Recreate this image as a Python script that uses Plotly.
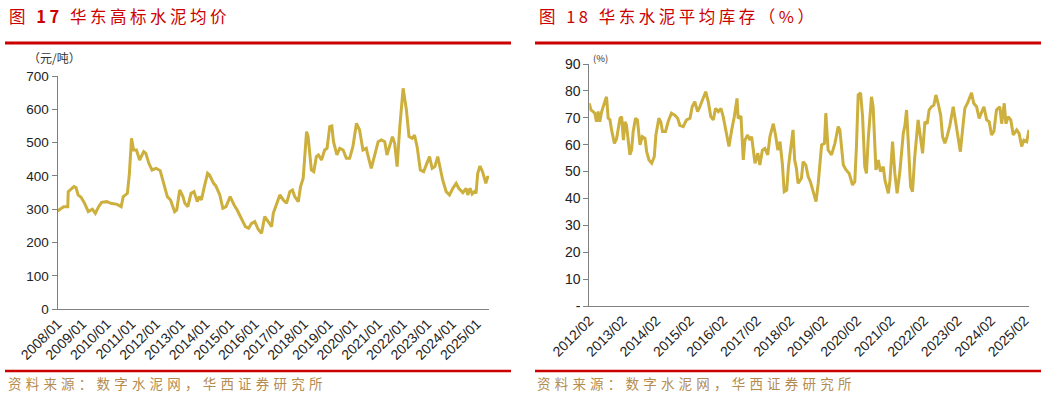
import plotly.graph_objects as go

# ---------------- Data ----------------
price_dates = [
    "2008-01-01", "2008-04-01", "2008-06-01", "2008-06-08", "2008-09-01", "2008-10-01", "2008-11-01",
    "2008-12-15", "2009-02-01", "2009-04-01", "2009-06-01", "2009-07-15", "2009-09-01", "2009-10-15",
    "2010-01-01", "2010-03-01", "2010-06-01", "2010-08-01", "2010-09-01", "2010-11-01", "2010-12-01",
    "2011-01-01", "2011-02-01", "2011-03-15", "2011-05-01", "2011-07-01", "2011-08-01", "2011-09-15",
    "2011-11-01", "2012-01-01", "2012-03-01", "2012-05-01", "2012-06-15", "2012-08-01", "2012-10-01",
    "2012-11-01", "2012-12-15", "2013-02-01", "2013-03-01", "2013-04-15", "2013-06-01", "2013-07-15",
    "2013-09-01", "2013-10-01", "2013-11-01", "2013-12-15", "2014-02-01", "2014-03-01", "2014-05-01",
    "2014-06-01", "2014-08-01", "2014-09-15", "2014-11-01", "2015-01-01", "2015-02-01", "2015-03-01",
    "2015-04-15", "2015-06-01", "2015-08-15", "2015-10-01", "2015-11-15", "2016-01-01", "2016-02-20",
    "2016-04-10", "2016-05-27", "2016-07-18", "2016-09-06", "2016-10-01", "2016-11-18", "2017-01-06",
    "2017-02-27", "2017-04-15", "2017-06-03", "2017-07-12", "2017-08-15", "2017-10-06", "2017-11-09",
    "2017-12-18", "2018-02-06", "2018-03-01", "2018-04-18", "2018-05-24", "2018-07-01", "2018-08-01",
    "2018-09-15", "2018-11-01", "2018-12-06", "2019-01-15", "2019-02-15", "2019-03-12", "2019-05-01",
    "2019-06-12", "2019-08-01", "2019-09-18", "2019-11-06", "2019-12-24", "2020-02-15", "2020-04-01",
    "2020-05-21", "2020-07-09", "2020-08-01", "2020-09-21", "2020-11-12", "2021-01-01", "2021-02-18",
    "2021-04-09", "2021-05-12", "2021-06-21", "2021-08-01", "2021-09-03", "2021-10-09", "2021-11-18",
    "2022-01-06", "2022-02-24", "2022-04-03", "2022-05-21", "2022-06-24", "2022-08-01", "2022-09-18",
    "2022-11-06", "2022-12-24", "2023-02-01", "2023-03-12", "2023-04-21", "2023-06-03", "2023-07-06",
    "2023-08-15", "2023-10-06", "2023-11-24", "2024-01-12", "2024-03-01", "2024-04-09", "2024-06-09",
    "2024-07-27", "2024-08-21", "2024-09-24", "2024-10-24", "2024-11-27", "2024-12-21", "2025-01-15",
    "2025-02-18", "2025-03-27", "2025-04-21", "2025-05-15", "2025-06-09", "2025-07-01",
]
price_values = [
    295, 308, 308, 353, 368, 365, 343,
    336, 320, 293, 300, 288, 308, 321,
    323, 318, 315, 308, 338, 348, 408,
    513, 478, 478, 448, 473, 468, 438,
    418, 423, 416, 368, 338, 328, 293,
    298, 358, 338, 318, 308, 348, 353,
    323, 338, 328, 368, 408, 403, 378,
    371, 343, 303, 308, 338, 323, 313,
    298, 278, 248, 243, 258, 263, 240,
    228, 278, 263, 248, 288, 313, 343,
    328, 318, 353, 358, 338, 323, 368,
    393, 533, 518, 418, 413, 458, 463,
    448, 478, 483, 548, 550, 503, 463,
    483, 478, 453, 453, 488, 558, 538,
    478, 483, 463, 423, 463, 503, 508,
    503, 463, 488, 518, 498, 428, 548,
    663, 598, 518, 513, 523, 488, 418,
    413, 438, 458, 423, 428, 458, 428,
    388, 353, 343, 363, 378, 363, 350,
    363, 343, 363, 346, 353, 348, 408,
    430, 413, 398, 378, 396, 396,
]

stock_dates = [
    "2012-02-01", "2012-02-19", "2012-03-13", "2012-04-01", "2012-04-19", "2012-05-07", "2012-05-25",
    "2012-06-13", "2012-07-19", "2012-08-07", "2012-08-25", "2012-09-13", "2012-10-01", "2012-11-01",
    "2012-11-25", "2012-12-13", "2013-01-01", "2013-01-19", "2013-02-07", "2013-02-25", "2013-03-13",
    "2013-04-19", "2013-05-07", "2013-05-25", "2013-06-19", "2013-07-10", "2013-08-07", "2013-09-01",
    "2013-10-01", "2013-10-19", "2013-11-13", "2013-12-13", "2014-01-10", "2014-01-28", "2014-03-01",
    "2014-03-22", "2014-04-10", "2014-05-13", "2014-06-10", "2014-07-16", "2014-08-22", "2014-09-22",
    "2014-10-16", "2014-11-22", "2014-12-28", "2015-02-04", "2015-02-28", "2015-03-28", "2015-04-28",
    "2015-05-22", "2015-06-28", "2015-07-25", "2015-08-22", "2015-09-19", "2015-10-16", "2015-11-10",
    "2015-12-10", "2016-01-07", "2016-02-01", "2016-03-10", "2016-04-04", "2016-05-04", "2016-06-01",
    "2016-07-01", "2016-07-13", "2016-08-13", "2016-09-07", "2016-09-25", "2016-10-25", "2016-11-19",
    "2016-12-07", "2017-01-13", "2017-02-13", "2017-03-07", "2017-04-04", "2017-05-01", "2017-06-01",
    "2017-06-25", "2017-08-01", "2017-08-25", "2017-09-19", "2017-10-13", "2017-11-07", "2017-11-28",
    "2017-12-25", "2018-01-13", "2018-02-10", "2018-03-04", "2018-03-22", "2018-04-10", "2018-04-28",
    "2018-06-04", "2018-06-22", "2018-07-22", "2018-08-16", "2018-09-10", "2018-10-10", "2018-11-10",
    "2018-12-04", "2019-01-10", "2019-02-10", "2019-02-25", "2019-03-22", "2019-04-28", "2019-06-04",
    "2019-07-10", "2019-07-28", "2019-09-04", "2019-10-04", "2019-11-07", "2019-12-13", "2020-01-07",
    "2020-01-25", "2020-02-13", "2020-03-10", "2020-04-01", "2020-04-25", "2020-05-13", "2020-06-01",
    "2020-07-07", "2020-07-25", "2020-08-25", "2020-09-19", "2020-10-13", "2020-11-13", "2020-12-01",
    "2021-01-07", "2021-01-25", "2021-02-22", "2021-03-19", "2021-04-13", "2021-05-13", "2021-06-19",
    "2021-07-07", "2021-07-25", "2021-08-13", "2021-09-07", "2021-09-28", "2021-10-22", "2021-11-28",
    "2021-12-22", "2022-01-16", "2022-02-10", "2022-03-07", "2022-03-28", "2022-04-22", "2022-05-19",
    "2022-06-10", "2022-07-04", "2022-08-01", "2022-08-22", "2022-09-16", "2022-10-10", "2022-11-10",
    "2022-12-16", "2023-01-13", "2023-02-10", "2023-03-04", "2023-04-04", "2023-04-22", "2023-05-28",
    "2023-07-04", "2023-07-28", "2023-08-28", "2023-09-25", "2023-10-22", "2023-11-16", "2023-12-16",
    "2024-01-13", "2024-02-07", "2024-03-04", "2024-04-01", "2024-05-07", "2024-05-28", "2024-06-25",
    "2024-07-13", "2024-08-07", "2024-09-04", "2024-10-01", "2024-11-07", "2024-12-04", "2025-01-01",
    "2025-01-25", "2025-02-25", "2025-03-22",
]
stock_values = [
    75.4, 72.9, 72.3, 71.7, 68.5, 72.3, 68.5,
    72.0, 76.0, 77.8, 69.8, 69.3, 65.5, 60.5,
    62.3, 66.7, 69.8, 70.4, 61.7, 68.5, 67.2,
    56.2, 58.0, 64.9, 69.8, 69.2, 59.9, 63.0,
    62.3, 57.4, 54.3, 53.1, 55.5, 63.6, 69.8,
    68.5, 64.9, 64.9, 68.5, 71.7, 71.0, 69.8,
    67.2, 66.7, 69.2, 69.8, 74.1, 76.0, 72.3,
    74.1, 77.2, 79.7, 76.0, 70.4, 69.2, 73.5,
    72.3, 73.5, 70.4, 64.2, 59.3, 65.5, 70.4,
    77.2, 69.8, 70.6, 54.3, 61.7, 63.6, 61.7,
    63.0, 53.1, 56.8, 52.4, 58.0, 58.6, 56.2,
    63.0, 67.8, 63.6, 58.0, 61.1, 53.1, 42.5,
    43.1, 51.8, 58.5, 65.5, 54.3, 51.2, 45.6,
    47.5, 53.7, 52.4, 48.1, 46.2, 42.5, 38.8,
    45.6, 59.9, 60.5, 71.7, 58.0, 56.2, 60.5,
    66.7, 65.5, 52.4, 50.6, 49.3, 45.0, 46.2,
    59.3, 78.5, 79.3, 70.4, 51.8, 49.3, 61.7,
    77.8, 74.1, 50.6, 54.3, 50.0, 51.8, 46.8,
    41.9, 46.8, 61.1, 49.3, 41.9, 50.0, 64.2,
    67.2, 72.9, 61.7, 44.4, 42.5, 55.5, 69.2,
    63.0, 56.8, 68.5, 67.8, 72.9, 74.1, 74.7,
    78.5, 75.4, 71.0, 63.0, 60.5, 63.0, 67.2,
    74.1, 67.8, 63.0, 57.4, 67.8, 73.5, 76.0,
    79.3, 75.4, 74.1, 69.8, 72.3, 74.1, 69.2,
    68.5, 63.6, 64.9, 72.9, 74.1, 67.8, 75.4,
    67.8, 70.4, 69.2, 63.6, 65.5, 64.2, 59.3,
    61.7, 61.1, 65.5,
]

left_title_parts = ["图 ", "17", " 华东高标水泥均价"]
right_title = "图 18 华东水泥平均库存（%）"
source_text = "资料来源：数字水泥网，华西证券研究所"
left_unit = "（元/吨）"
right_unit = "(%)"
left_yticks = [0, 100, 200, 300, 400, 500, 600, 700]
right_yticks = [0, 10, 20, 30, 40, 50, 60, 70, 80, 90]
right_yticktext = ["-", "10", "20", "30", "40", "50", "60", "70", "80", "90"]

# ---------------- Layout helpers ----------------
W, H = 1047, 398
def px(x):
    return x / W
def py(y):
    return 1 - y / H

LINE = "#CCAF3C"
RED = "#CC0000"
SRC = "#B48C50"
ARIAL = "Liberation Sans, Arial, sans-serif"
CJK = "Noto Sans CJK SC, sans-serif"

fig = go.Figure()
fig.add_trace(go.Scatter(x=price_dates, y=price_values, mode="lines",
                         line=dict(color=LINE, width=3), xaxis="x", yaxis="y",
                         showlegend=False, hoverinfo="skip"))
fig.add_trace(go.Scatter(x=stock_dates, y=stock_values, mode="lines",
                         line=dict(color=LINE, width=3), xaxis="x2", yaxis="y2",
                         showlegend=False, hoverinfo="skip"))

axis_common = dict(showgrid=False, zeroline=False, showline=True, automargin=False,
                   linecolor="#808080", linewidth=1)
xfont = dict(family=ARIAL, size=14, color="#222222")
yfont_l = dict(family=ARIAL, size=13.5, color="#222222")
yfont_r = dict(family=ARIAL, size=14, color="#222222")

fig.update_layout(
    width=W, height=H, autosize=False,
    margin=dict(l=0, r=0, t=0, b=0, pad=0, autoexpand=False),
    paper_bgcolor="white", plot_bgcolor="white",
    xaxis=dict(domain=[px(57.5), px(489)], anchor="y", type="date",
               range=["2008-01-01", "2025-07-01"], tick0="2008-01-01", dtick="M12",
               tickformat="%Y/%m", tickangle=-45, ticks="", tickfont=xfont, **axis_common),
    yaxis=dict(domain=[py(309.3), py(76)], anchor="x", range=[0, 700],
               tickvals=left_yticks, tickfont=yfont_l,
               ticks="outside", ticklen=5, tickcolor="#808080", **axis_common),
    xaxis2=dict(domain=[px(589.3), px(1029)], anchor="y2", type="date",
                range=["2012-02-01", "2025-03-22"], tick0="2012-02-01", dtick="M12",
                tickformat="%Y/%m", tickangle=-45, ticks="", tickfont=xfont, **axis_common),
    yaxis2=dict(domain=[py(306), py(64)], anchor="x2", range=[0, 90],
                tickvals=right_yticks, ticktext=right_yticktext, tickfont=yfont_r,
                ticks="outside", ticklen=5, tickcolor="#808080", **axis_common),
)

shapes = []
for x0, x1 in [(5, 511), (535, 1041)]:
    shapes.append(dict(type="line", xref="paper", yref="paper", x0=px(x0), x1=px(x1),
                       y0=py(43), y1=py(43), line=dict(color=RED, width=3)))
    shapes.append(dict(type="line", xref="paper", yref="paper", x0=px(x0), x1=px(x1),
                       y0=py(371), y1=py(371), line=dict(color=RED, width=2.5)))
fig.update_layout(shapes=shapes)

left_title = ('<span style="letter-spacing:3.5px">' + left_title_parts[0]
              + '<b>' + left_title_parts[1] + '</b>' + left_title_parts[2] + '</span>')

ann = []
ann.append(dict(text=left_title,
                x=px(7), y=py(16), xref="paper", yref="paper", xanchor="left", yanchor="middle",
                showarrow=False, font=dict(family=CJK, size=16.5, color=RED)))
ann.append(dict(text='<span style="letter-spacing:3.5px">' + right_title + "</span>",
                x=px(537), y=py(16), xref="paper", yref="paper", xanchor="left", yanchor="middle",
                showarrow=False, font=dict(family=CJK, size=16.5, color=RED)))
for x0 in (6, 535):
    ann.append(dict(text='<span style="letter-spacing:4.2px">' + source_text + "</span>",
                    x=px(x0), y=py(383), xref="paper", yref="paper", xanchor="left", yanchor="middle",
                    showarrow=False, font=dict(family=CJK, size=13.5, color=SRC)))
ann.append(dict(text=left_unit, x=px(26), y=py(58), xref="paper", yref="paper",
                xanchor="left", yanchor="middle", showarrow=False,
                font=dict(family=CJK, size=12, color="#333333")))
ann.append(dict(text=right_unit, x=px(591), y=py(58), xref="paper", yref="paper",
                xanchor="left", yanchor="middle", showarrow=False,
                font=dict(family=CJK, size=9.5, color="#333333")))
fig.update_layout(annotations=ann)

fig.write_html("out.html")
